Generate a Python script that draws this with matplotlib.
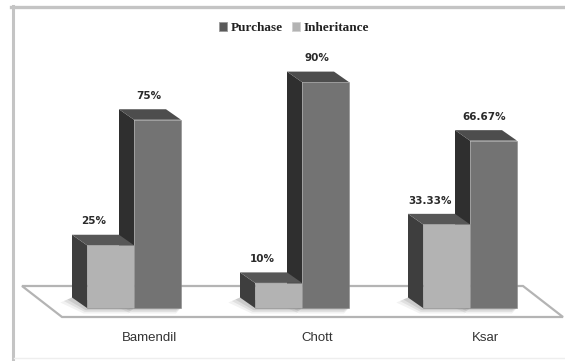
import matplotlib.pyplot as plt
from matplotlib.patches import Polygon, Patch
from matplotlib.lines import Line2D

# Data
categories = ['Bamendil', 'Chott', 'Ksar']
inheritance = [25, 10, 33.33]
purchase = [75, 90, 66.67]
inheritance_labels = ['25%', '10%', '33.33%']
purchase_labels = ['75%', '90%', '66.67%']

W, H = 565, 361
fig = plt.figure(figsize=(W / 100, H / 100), dpi=100)
ax = fig.add_axes([0, 0, 1, 1])
ax.set_axis_off()

# scale: one group = 168 px, 1 % = 2.51 px
px_group = 168.0
px_pct = 2.51
ax.set_xlim(-134 / px_group, (W - 134) / px_group)
ax.set_ylim(-53 / px_pct, (H - 53) / px_pct)

bar_w = 47 / px_group
ddx = -15 / px_group      # depth offset of the bars
ddy = 10.5 / px_pct

# floor plane
fx0, fx1 = -72 / px_group, 429 / px_group
fy = -9 / px_pct
fdx, fdy = -40 / px_group, 31 / px_pct
floor = Polygon([(fx0, fy), (fx1, fy), (fx1 + fdx, fy + fdy), (fx0 + fdx, fy + fdy)],
                closed=True, facecolor='white', edgecolor='#b4b4b4', lw=1.6, zorder=1)
ax.add_patch(floor)


def bar3d(x, v, front, side, top, z):
    xl, xr = x - bar_w / 2, x + bar_w / 2
    # soft shadow on the floor, to the front-left of the bar
    for k, a in [(1.0, 0.05), (0.7, 0.07), (0.4, 0.09)]:
        ax.add_patch(Polygon([(xl + ddx, ddy), (xl + ddx - 0.07 * k, ddy - 2.0 * k),
                              (xl - 0.02 * k, -2.2 * k), (xr - 0.03, -2.2 * k), (xr, 0)],
                             closed=True, facecolor='black', alpha=a, lw=0, zorder=z - 0.5))
    ax.add_patch(Polygon([(xl, 0), (xl, v), (xl + ddx, v + ddy), (xl + ddx, ddy)],
                         closed=True, facecolor=side, lw=0, zorder=z))
    ax.add_patch(Polygon([(xl, v), (xr, v), (xr + ddx, v + ddy), (xl + ddx, v + ddy)],
                         closed=True, facecolor=top, lw=0, zorder=z))
    ax.bar(x, v, width=bar_w, color=front, edgecolor='#8a8a8a', lw=0.4, zorder=z)


for i, cat in enumerate(categories):
    # right (dark) bar first, it sits behind the light one
    bar3d(i + bar_w / 2, purchase[i], '#737373', '#2f2f2f', '#4d4d4d', 2)
    bar3d(i - bar_w / 2, inheritance[i], '#b3b3b3', '#3e3e3e', '#575757', 3)

    ax.annotate(purchase_labels[i], (i + bar_w / 2 + ddx * 0.6, purchase[i] + ddy),
                xytext=(0, 6), textcoords='offset points', ha='center', va='bottom',
                fontsize=7.5, fontweight='bold', color='#2a2a2a', zorder=5)
    ax.annotate(inheritance_labels[i], (i - bar_w / 2 + ddx * 1.1, inheritance[i] + ddy),
                xytext=(0, 6), textcoords='offset points', ha='center', va='bottom',
                fontsize=7.5, fontweight='bold', color='#2a2a2a', zorder=5)

    ax.text(i + 0.09, -12, cat, ha='center', va='center', fontsize=9.5,
            family='Liberation Sans', color='#333333')

# legend
handles = [Patch(facecolor='#5a5a5a', edgecolor='#9a9a9a', lw=0.6),
           Patch(facecolor='#b3b3b3', edgecolor='#d0d0d0', lw=0.6)]
fig.legend(handles, ['Purchase', 'Inheritance'], loc='center',
           bbox_to_anchor=(294 / W, 1 - 28 / H), ncol=2, frameon=False,
           prop={'family': 'Liberation Serif', 'weight': 'bold', 'size': 9.5},
           handlelength=0.6, handleheight=0.6, handletextpad=0.25,
           columnspacing=0.7, labelcolor='#222222')

# outer frame (top and left edges)
fig.add_artist(Line2D([11 / W, 1], [1 - 7 / H, 1 - 7 / H], color='#c4c4c4', lw=2.4))
fig.add_artist(Line2D([12.5 / W, 12.5 / W], [0, 1 - 6 / H], color='#c4c4c4', lw=2.2))
fig.add_artist(Line2D([14 / W, 1], [3 / H, 3 / H], color='#eeeeee', lw=1))

fig.savefig('out.png', dpi=100)
